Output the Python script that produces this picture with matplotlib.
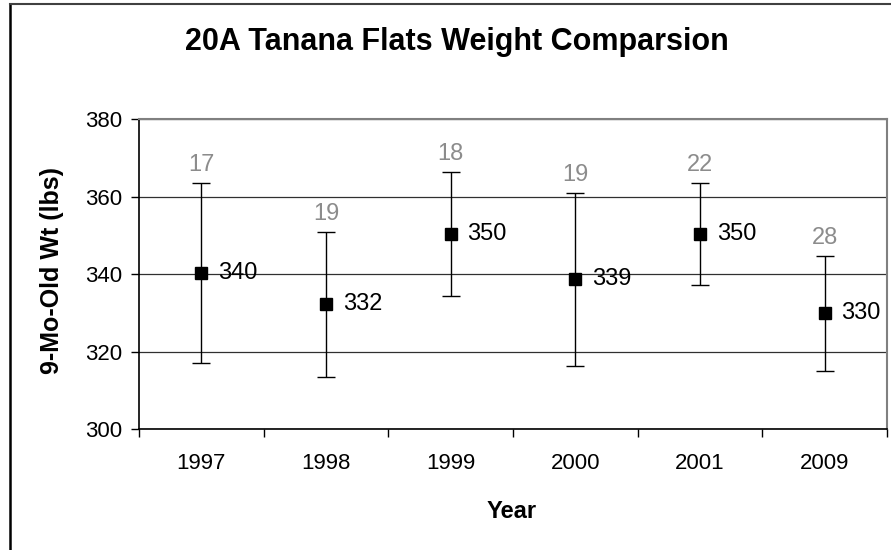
import numpy as np
import matplotlib.pyplot as plt
from matplotlib.lines import Line2D

plt.rcParams['font.family'] = ['Liberation Sans', 'DejaVu Sans']

years = ['1997', '1998', '1999', '2000', '2001', '2009']
wt_mean = [340.3, 332.3, 350.4, 338.7, 350.4, 329.9]
wt_err = [23.2, 18.7, 16.1, 22.3, 13.2, 14.9]
n_calves = [17, 19, 18, 19, 22, 28]

W, H = 891, 550
fig = plt.figure(figsize=(W / 100, H / 100), dpi=100)
ax = fig.add_axes([139 / W, 1 - 429.3 / H, 748 / W, 310 / H])

x = np.arange(len(years))
ax.errorbar(x, wt_mean, yerr=wt_err, fmt='s', color='black', ms=8.5,
            ecolor='black', elinewidth=1.0, capsize=6.5, capthick=1.0, zorder=3)

for xi, m, e, n in zip(x, wt_mean, wt_err, n_calves):
    ax.annotate(str(round(m)), (xi, m), xytext=(12, 0), textcoords='offset points',
                ha='left', va='center', fontsize=17, color='black')
    ax.annotate(str(n), (xi, m + e), xytext=(0, 5), textcoords='offset points',
                ha='center', va='bottom', fontsize=17, color='#8c8c8c')

ax.set_xlim(-0.5, len(years) - 0.5)
ax.set_ylim(300, 380)
ax.set_yticks([300, 320, 340, 360, 380])
ax.tick_params(axis='y', labelsize=16, length=6, width=1, direction='out', pad=6)
ax.set_xticks(np.arange(-0.5, len(years)), labels=[''] * (len(years) + 1))
ax.set_xticks(x, labels=years, minor=True)
ax.tick_params(axis='x', which='major', length=6, width=1, direction='out')
ax.tick_params(axis='x', which='minor', length=0, labelsize=16, pad=17)

ax.grid(axis='y', color='#303030', linewidth=0.9)
ax.set_axisbelow(True)
for s in ['left', 'bottom']:
    ax.spines[s].set_color('black')
    ax.spines[s].set_linewidth(1.2)
for s in ['top', 'right']:
    ax.spines[s].set_color('#808080')
    ax.spines[s].set_linewidth(1.5)

fig.text(457 / W, 1 - 42 / H, '20A Tanana Flats Weight Comparsion', ha='center', va='center',
         fontsize=22, fontweight='bold')
fig.text(52 / W, 1 - 270 / H, '9-Mo-Old Wt (lbs)', ha='center', va='center', rotation=90,
         fontsize=18, fontweight='bold')
fig.text(512 / W, 1 - 512 / H, 'Year', ha='center', va='center', fontsize=17, fontweight='bold')

# chart area border
fig.add_artist(Line2D([10 / W, 10 / W], [0, 1 - 4 / H], color='black', lw=1.8))
fig.add_artist(Line2D([10 / W, 1], [1 - 4 / H, 1 - 4 / H], color='#404040', lw=1.5))

fig.savefig('out.png', dpi=100)
